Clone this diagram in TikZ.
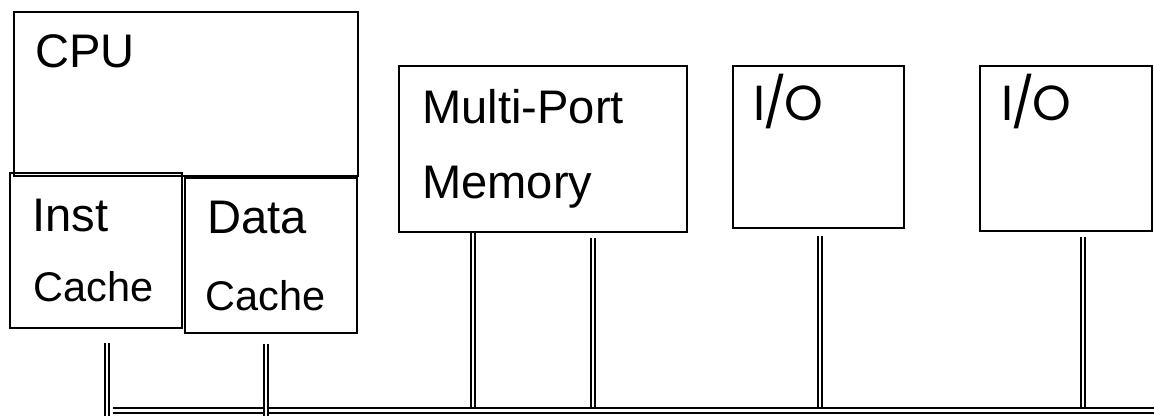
\documentclass[tikz,border=0pt]{standalone}
\usepackage{fontspec}
\setmainfont{Liberation Sans}
\newfontfamily\iofont{Poppins}
\usetikzlibrary{positioning, fit, calc}

\begin{document}
\begin{tikzpicture}[
  x=0.025cm, y=-0.025cm,
  unitbox/.style={rectangle, draw=black, line width=1.7pt, inner sep=0pt},
  biglabel/.style={font=\fontsize{33.5}{36}\selectfont, anchor=base west, inner sep=0pt},
  smalllabel/.style={font=\fontsize{29.5}{32}\selectfont, anchor=base west, inner sep=0pt},
  iolabel/.style={font=\iofont\fontsize{35}{38}\selectfont, anchor=base west, inner sep=0pt},
  link/.style={draw=black, double=white, line width=0.9pt, double distance=2pt},
  buswire/.style={draw=black, double=white, line width=1pt, double distance=2.6pt},
]
\useasboundingbox (0,0) rectangle (1154,416);

% CPU with its two caches
\node[unitbox, fit={(14,12) (358,176)}] (cpu) {};
\node[unitbox, fit={(10,173) (182,328)}] (icache) {};
\node[unitbox, fit={(185,178) (357,333)}] (dcache) {};

% memory and I/O units
\node[unitbox, fit={(399,66) (687,232)}] (mem) {};
\node[unitbox, fit={(733,66) (904,228)}] (io1) {};
\node[unitbox, fit={(980,66) (1152,231)}] (io2) {};

% labels
\node[biglabel] (cpulbl) at (35,67) {CPU};
\node[biglabel] (instlbl) at (32,231) {Inst};
\node[smalllabel] (icachelbl) at (33,301) {Cache};
\node[biglabel] (datalbl) at (207,233) {Data};
\node[smalllabel] (dcachelbl) at (205,310) {Cache};
\node[biglabel] (memlbl1) at (422,123) {Multi-Port};
\node[biglabel] (memlbl2) at (422,198) {Memory};
\node[iolabel] (io1lbl) at (753,120) {I\kern-1.5pt/\kern-1.5pt O};
\node[iolabel] (io2lbl) at (1001,120) {I\kern-1.5pt/\kern-1.5pt O};

% ports down to the bus
\coordinate (busw) at (113,410.5);
\coordinate (buse) at (1154,410.5);
\draw[link] ($(mem.south)+(-70,0)$) -- ++(0,176);
\draw[link] ($(mem.south)+(50,5)$) -- ++(0,171);
\draw[link] ($(io1.south)+(1.5,7)$) -- ++(0,173);
\draw[link] ($(io2.south)+(17,5)$) -- ++(0,172);

% system bus
\draw[buswire] (busw) -- (buse);

\draw[link] ($(icache.south)+(11,14)$) -- ++(0,73);
\draw[link] ($(dcache.south)+(-5,10)$) -- ++(0,72);
\end{tikzpicture}
\end{document}
